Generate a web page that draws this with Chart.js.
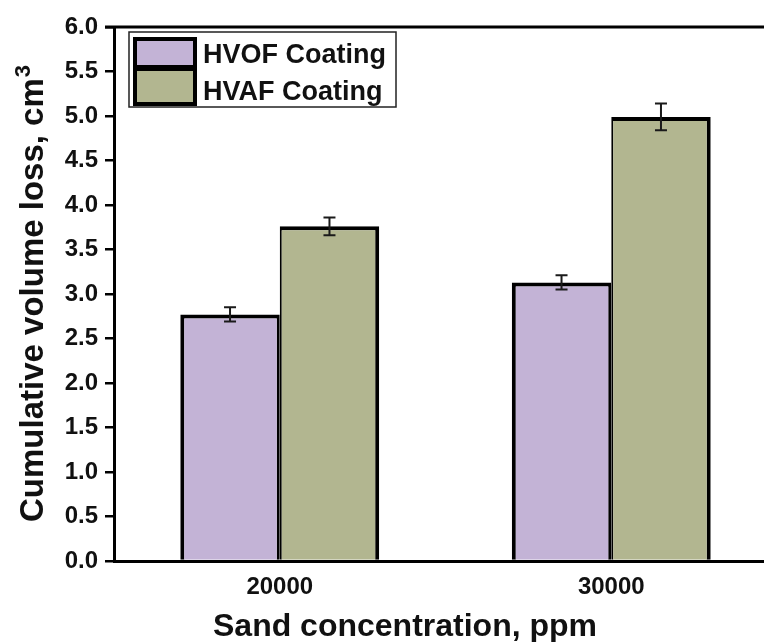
<!DOCTYPE html>
<html>
<head>
<meta charset="utf-8">
<script src="https://cdn.jsdelivr.net/npm/chart.js@4"></script>
<style>
  html, body { margin: 0; padding: 0; background: #fff; overflow: hidden; }
  #wrap { position: relative; width: 790px; height: 642px; }
</style>
</head>
<body>
<div id="wrap"><canvas id="lossChart"></canvas></div>
<script>
// Sand concentration groups and cumulative volume loss (cm3) per coating
const categories = ['20000', '30000'];
const seriesNames = ['HVOF Coating', 'HVAF Coating'];
const hvofLoss = [2.77, 3.13];
const hvofErr = [0.08, 0.08];
const hvafLoss = [3.76, 4.99];
const hvafErr = [0.10, 0.15];
const yTickValues = [0.0, 0.5, 1.0, 1.5, 2.0, 2.5, 3.0, 3.5, 4.0, 4.5, 5.0, 5.5, 6.0];
const xTitle = 'Sand concentration, ppm';
const yTitle = 'Cumulative volume loss, cm';

const FONT = "'Liberation Sans', Arial, sans-serif";
const fillColors = ['#c3b3d6', '#b2b690'];
const errors = [hvofErr, hvafErr];

// whiskers on top of each bar
const errorBars = {
    id: 'errorBars',
    afterDatasetsDraw(chart) {
        const ctx = chart.ctx;
        const y = chart.scales.y;
        ctx.save();
        ctx.strokeStyle = '#1a1a1a';
        ctx.lineWidth = 2;
        chart.data.datasets.forEach((ds, di) => {
            const meta = chart.getDatasetMeta(di);
            meta.data.forEach((bar, i) => {
                const v = ds.data[i];
                const e = errors[di][i];
                const yHi = y.getPixelForValue(v + e);
                const yLo = y.getPixelForValue(v - e);
                ctx.beginPath();
                ctx.moveTo(bar.x, yHi); ctx.lineTo(bar.x, yLo);
                ctx.moveTo(bar.x - 6, yHi); ctx.lineTo(bar.x + 6, yHi);
                ctx.moveTo(bar.x - 6, yLo); ctx.lineTo(bar.x + 6, yLo);
                ctx.stroke();
            });
        });
        ctx.restore();
    }
};

// top frame line, axis titles and the boxed legend inside the plot
const frameAndLegend = {
    id: 'frameAndLegend',
    afterDraw(chart) {
        const ctx = chart.ctx;
        const a = chart.chartArea;
        ctx.save();
        ctx.strokeStyle = '#000';
        ctx.lineWidth = 3;
        ctx.beginPath();
        ctx.moveTo(a.left - 9, a.top);
        ctx.lineTo(a.right, a.top);
        ctx.stroke();

        ctx.fillStyle = '#111';
        ctx.font = 'bold 32px ' + FONT;
        ctx.textAlign = 'center';
        ctx.textBaseline = 'alphabetic';
        ctx.fillText(xTitle, 405, 636);

        // rotated y title with a raised "3"
        ctx.save();
        ctx.translate(43, 522);
        ctx.rotate(-Math.PI / 2);
        ctx.textAlign = 'left';
        ctx.font = 'bold 33px ' + FONT;
        ctx.fillText(yTitle, 0, 0);
        const w = ctx.measureText(yTitle).width;
        ctx.font = 'bold 22px ' + FONT;
        ctx.fillText('3', w + 1, -13);
        ctx.restore();

        const bx = a.left + 15, by = a.top + 5;
        ctx.lineWidth = 1.5;
        ctx.strokeStyle = '#222';
        ctx.strokeRect(bx, by, 267, 75);

        const rows = [
            { y: by + 7, h: 28 },
            { y: by + 37, h: 35 }
        ];
        ctx.lineWidth = 4;
        ctx.strokeStyle = '#000';
        ctx.font = 'bold 27px ' + FONT;
        ctx.textAlign = 'left';
        rows.forEach((r, i) => {
            ctx.fillStyle = fillColors[i];
            ctx.fillRect(bx + 6, r.y, 60, r.h);
            ctx.strokeRect(bx + 6, r.y, 60, r.h);
            ctx.fillStyle = '#111';
            ctx.fillText(seriesNames[i], bx + 74, i === 0 ? by + 31 : by + 68);
        });
        ctx.restore();
    }
};

new Chart(document.getElementById('lossChart'), {
    type: 'bar',
    data: {
        labels: categories,
        datasets: [
            {
                label: seriesNames[0],
                data: hvofLoss,
                backgroundColor: fillColors[0],
                borderColor: '#000',
                borderWidth: { left: 4, top: 4, right: 3, bottom: 0 },
                borderSkipped: false
            },
            {
                label: seriesNames[1],
                data: hvafLoss,
                backgroundColor: fillColors[1],
                borderColor: '#000',
                borderWidth: { left: 2, top: 4, right: 4, bottom: 0 },
                borderSkipped: false
            }
        ]
    },
    options: {
        responsive: true,
        maintainAspectRatio: false,
        animation: false,
        categoryPercentage: 0.6,
        barPercentage: 1.0,
        layout: { padding: { top: 27, right: 13, left: 0, bottom: 0 } },
        scales: {
            x: {
                afterFit(scale) { scale.height = 81; },
                grid: { display: false, drawTicks: false },
                border: { display: true, color: '#000', width: 3 },
                ticks: {
                    color: '#111',
                    padding: 12,
                    font: { family: FONT, size: 24, weight: 'bold' }
                },
                title: { display: false }
            },
            y: {
                min: 0,
                max: 6,
                afterFit(scale) { scale.width = 114; },
                afterBuildTicks(scale) {
                    scale.ticks = yTickValues.map(v => ({ value: v }));
                },
                grid: {
                    drawOnChartArea: false,
                    drawTicks: true,
                    tickLength: 9,
                    color: '#000',
                    lineWidth: 2.5
                },
                border: { display: true, color: '#000', width: 3 },
                ticks: {
                    color: '#111',
                    padding: 7,
                    font: { family: FONT, size: 24, weight: 'bold' },
                    callback: v => Number(v).toFixed(1)
                },
                title: { display: false }
            }
        },
        plugins: {
            legend: { display: false },
            tooltip: { enabled: false }
        }
    },
    plugins: [errorBars, frameAndLegend]
});
</script>
</body>
</html>
